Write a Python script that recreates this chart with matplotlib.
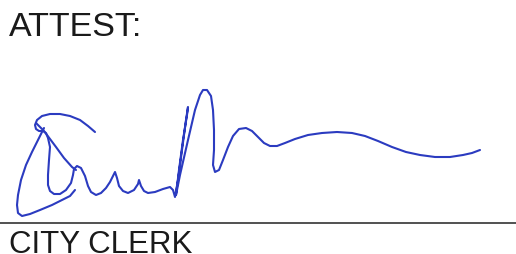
import matplotlib
matplotlib.use("Agg")
import matplotlib.pyplot as plt

# signature strokes in pixel coordinates (y grows downward)
stroke_main_x = [95, 88, 80, 70, 60, 50, 42, 37, 35, 36, 39, 43, 46, 48, 50, 49, 48, 48, 50, 54,
                 60, 66, 71, 73, 74, 77, 81, 85, 88, 91, 96, 101, 106, 110, 113, 115, 117, 119,
                 123, 128, 134, 138, 139, 141, 144, 148, 155, 163, 170, 173, 175, 178, 182, 186,
                 188, 187, 183, 179, 176, 180, 188, 195, 200, 203, 207, 211, 213, 214, 214, 213,
                 215, 219, 223, 228, 233, 239, 246, 252, 258, 264, 270, 277, 285, 295, 308, 322,
                 337, 352, 365, 378, 392, 406, 420, 435, 450, 463, 472, 480]
stroke_main_y = [132, 126, 120, 116, 114, 114, 116, 120, 125, 129, 131, 131, 133, 138, 147, 160,
                 175, 185, 191, 194, 194, 190, 183, 175, 169, 166, 168, 176, 186, 192, 195, 193,
                 188, 182, 176, 172, 178, 186, 191, 193, 190, 184, 180, 186, 191, 193, 192, 189,
                 187, 190, 197, 180, 150, 120, 107, 115, 140, 170, 195, 175, 140, 110, 95, 90,
                 90, 96, 110, 130, 150, 165, 172, 170, 160, 147, 136, 129, 128, 131, 137, 143,
                 146, 146, 143, 139, 135, 133, 132, 133, 136, 141, 147, 152, 155, 157, 157, 155,
                 153, 150]

stroke_left_x = [44, 38, 32, 26, 21, 18, 17, 18, 22, 30, 40, 52, 62, 70, 75]
stroke_left_y = [128, 140, 152, 165, 180, 195, 205, 213, 216, 214, 210, 205, 200, 196, 190]

stroke_cross_x = [36, 44, 50, 56, 64, 72, 76]
stroke_cross_y = [123, 131, 139, 147, 158, 167, 170]

top_label = "ATTEST:"
bottom_label = "CITY CLERK"

ink = "#2b3bc0"

fig = plt.figure(figsize=(5.16, 2.54), dpi=100)
ax = fig.add_axes([0, 0, 1, 1])
ax.set_xlim(0, 516)
ax.set_ylim(254, 0)
ax.axis("off")

for xs, ys in [(stroke_main_x, stroke_main_y),
               (stroke_left_x, stroke_left_y),
               (stroke_cross_x, stroke_cross_y)]:
    ax.plot(xs, ys, color=ink, lw=1.5, solid_joinstyle="round", solid_capstyle="round")

ax.axhline(223, color="#222222", lw=1.1)

ax.text(9, 36, top_label, fontsize=24.5, family="Liberation Sans",
        color="#1a1a1a", va="baseline", ha="left")
ax.text(9, 253, bottom_label, fontsize=22.5, family="Liberation Sans",
        color="#1a1a1a", va="baseline", ha="left")

fig.savefig("out.png", dpi=100)
